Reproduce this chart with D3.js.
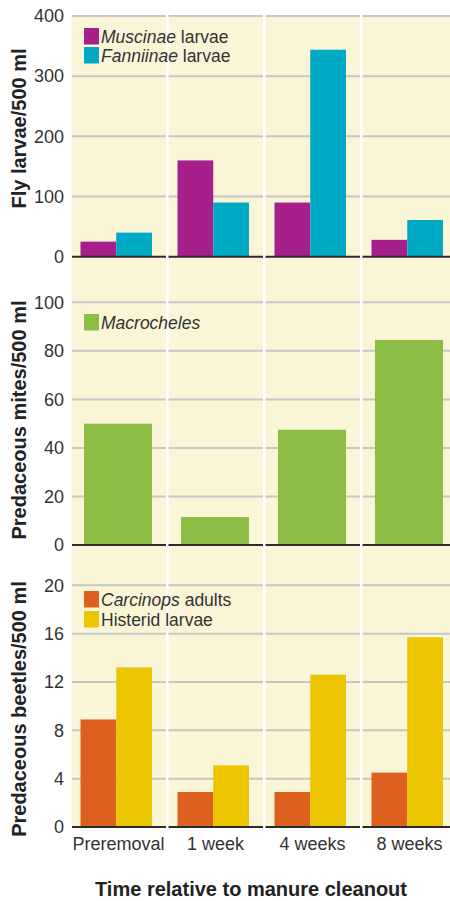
<!DOCTYPE html>
<meta charset="utf-8">
<style>
	body { margin: 0; background: #fff; }
	svg { font-family: "Liberation Sans", Arial, sans-serif; }
	.tick text { font-size: 18px; fill: #333; }
	.title { font-size: 20px; font-weight: bold; fill: #222; }
	.label { font-size: 18px; fill: #333; }
	.legend { font-size: 17.5px; fill: #333; }
</style>
<script src="https://d3js.org/d3.v7.min.js"></script>
<svg width="450" height="901" class="chart"></svg>
<script>
	var categories = ["Preremoval", "1 week", "4 weeks", "8 weeks"];

	var muscinae = [25, 160, 90, 28];
	var fanniinae = [40, 90, 344, 61];
	var macrocheles = [50, 11.5, 47.5, 84.5];
	var carcinops = [8.9, 2.9, 2.9, 4.5];
	var histerid = [13.2, 5.1, 12.6, 15.7];

	var flyTicks = [0, 100, 200, 300, 400];
	var miteTicks = [0, 20, 40, 60, 80, 100];
	var beetleTicks = [0, 4, 8, 12, 16, 20];

	var colors = {
		muscinae: "#a61f8a",
		fanniinae: "#00aac4",
		macrocheles: "#8cbd44",
		carcinops: "#de601f",
		histerid: "#eac500"
	};

	var svg = d3.select(".chart");

	var x = d3.scaleBand()
		.domain(categories)
		.range([70, 458]);

	// cream background for all three panels
	svg.append("rect")
		.attr("x", 70)
		.attr("y", 16)
		.attr("width", 380)
		.attr("height", 811)
		.attr("fill", "#faf5d6");

	var panels = [
		{ ticks: flyTicks, range: [256.7, 16], title: "Fly larvae/500 ml", titleY: 128.5,
			series: [{ values: muscinae, color: colors.muscinae }, { values: fanniinae, color: colors.fanniinae }],
			legend: [{ it: "Muscinae", rest: " larvae", color: colors.muscinae, y: 28 },
				{ it: "Fanniinae", rest: " larvae", color: colors.fanniinae, y: 47 }] },
		{ ticks: miteTicks, range: [545, 302.3], title: "Predaceous mites/500 ml", titleY: 420,
			series: [{ values: macrocheles, color: colors.macrocheles }],
			legend: [{ it: "Macrocheles", rest: "", color: colors.macrocheles, y: 314 }] },
		{ ticks: beetleTicks, range: [827, 585.3], title: "Predaceous beetles/500 ml", titleY: 709,
			series: [{ values: carcinops, color: colors.carcinops }, { values: histerid, color: colors.histerid }],
			legend: [{ it: "Carcinops", rest: " adults", color: colors.carcinops, y: 591 },
				{ it: "", rest: "Histerid larvae", color: colors.histerid, y: 611 }] }
	];

	panels.forEach(function(p) {
		var y = d3.scaleLinear()
			.domain([0, d3.max(p.ticks)])
			.range(p.range);

		var g = svg.append("g");

		// gridlines
		g.selectAll(".grid")
			.data(p.ticks.slice(1))
			.enter().append("line")
				.attr("x1", 72)
				.attr("x2", 450)
				.attr("y1", function(d) { return y(d); })
				.attr("y2", function(d) { return y(d); })
				.attr("stroke", "#c6c6c6")
				.attr("stroke-width", 2);

		// bars
		if (p.series.length === 2) {
			var x1 = d3.scaleBand().domain([0, 1]).range([10.5, 82]);
			p.series.forEach(function(s, si) {
				g.selectAll(".bar" + si)
					.data(s.values)
					.enter().append("rect")
						.attr("x", function(d, i) { return x(categories[i]) + x1(si); })
						.attr("y", function(d) { return y(d); })
						.attr("width", x1.bandwidth())
						.attr("height", function(d) { return y(0) - y(d); })
						.attr("fill", s.color);
			});
		} else {
			g.selectAll(".bar")
				.data(p.series[0].values)
				.enter().append("rect")
					.attr("x", function(d, i) { return x(categories[i]) + 14; })
					.attr("y", function(d) { return y(d); })
					.attr("width", 68)
					.attr("height", function(d) { return y(0) - y(d); })
					.attr("fill", p.series[0].color);
		}

		// baseline
		g.append("line")
			.attr("x1", 72)
			.attr("x2", 450)
			.attr("y1", y(0))
			.attr("y2", y(0))
			.attr("stroke", "#2b2b2b")
			.attr("stroke-width", 2);

		// y axis
		var axis = g.append("g")
			.attr("transform", "translate(72,0)")
			.call(d3.axisLeft(y).tickValues(p.ticks).tickSize(0).tickPadding(8));
		axis.select(".domain").remove();
		axis.selectAll("text").attr("font-family", null).attr("font-size", null);

		svg.append("text")
			.attr("class", "title")
			.attr("transform", "translate(26," + p.titleY + ") rotate(-90)")
			.attr("text-anchor", "middle")
			.text(p.title);
	});

	// white column separators
	svg.selectAll(".sep")
		.data(categories)
		.enter().append("rect")
			.attr("x", function(d) { return x(d) - 1; })
			.attr("y", 14)
			.attr("width", 2.5)
			.attr("height", 815)
			.attr("fill", "#fff");

	// legends sit on top of the separators
	panels.forEach(function(p) {
		p.legend.forEach(function(l) {
			svg.append("rect")
				.attr("x", 84)
				.attr("y", l.y)
				.attr("width", 15)
				.attr("height", 16.5)
				.attr("fill", l.color);
			var t = svg.append("text")
				.attr("class", "legend")
				.attr("x", 101)
				.attr("y", l.y + 15);
			if (l.it) t.append("tspan").attr("font-style", "italic").text(l.it);
			t.append("tspan").text(l.rest);
		});
	});

	// category labels
	svg.selectAll(".cat")
		.data(categories)
		.enter().append("text")
			.attr("class", "label")
			.attr("x", function(d) { return x(d) + x.bandwidth() / 2; })
			.attr("y", 850)
			.attr("text-anchor", "middle")
			.text(function(d) { return d; });

	svg.append("text")
		.attr("class", "title")
		.attr("x", 251)
		.attr("y", 896)
		.attr("text-anchor", "middle")
		.text("Time relative to manure cleanout");
</script>
